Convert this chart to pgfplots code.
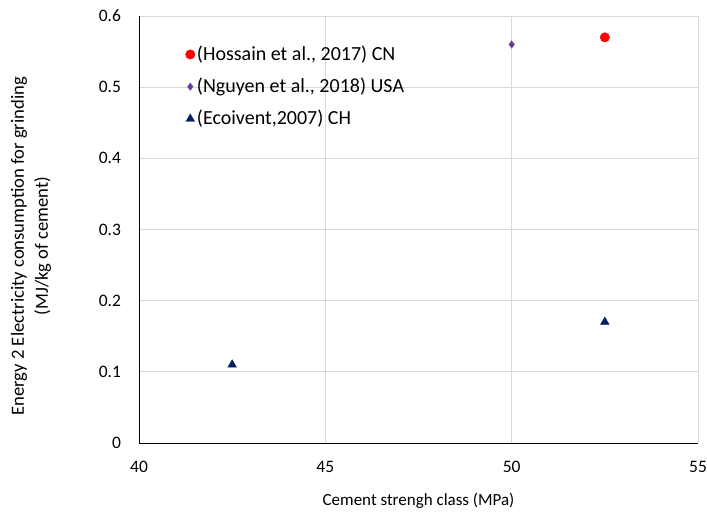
\documentclass[border=0pt]{standalone}
\usepackage{pgfplots}
\pgfplotsset{compat=1.18}
\usepackage{fontspec}
\setmainfont{Carlito}
\definecolor{gridgray}{HTML}{D9D9D9}
\definecolor{navy}{HTML}{002060}
\definecolor{purp}{HTML}{7030A0}
\begin{document}
\fontsize{17.5}{21}\selectfont
\begin{tikzpicture}
\useasboundingbox (-139pt,-70pt) rectangle (568pt,443pt);
\begin{axis}[
    at={(0,0)}, anchor=south west,
    scale only axis,
    width=559pt, height=427pt,
    xmin=40, xmax=55, ymin=0, ymax=0.6,
    xtick={40,45,50,55},
    ytick={0,0.1,0.2,0.3,0.4,0.5,0.6},
    /pgf/number format/assume math mode=true,
    yticklabel style={/pgf/number format/fixed, /pgf/number format/precision=1, xshift=-12pt},
    tick label style={font=\fontsize{17.5}{21}\selectfont},
    major tick length=0pt,
    xticklabel style={yshift=-12pt},
    axis lines=left,
    axis line style={-, black, line width=0.9pt},
    grid=major,
    major grid style={gridgray, line width=0.8pt},
    xlabel={Cement strengh class (MPa)},
    ylabel={Energy 2 Electricity consumption for grinding\\(MJ/kg of cement)},
    ylabel style={align=center, font=\fontsize{18.6}{24}\selectfont,
        at={(axis description cs:-0.193,0.461)}, anchor=center},
    xlabel style={font=\fontsize{17}{21}\selectfont, yshift=-9pt},
    legend style={draw=none, fill=none, at={(0.083,0.94)}, anchor=north west,
        font=\fontsize{20}{24}\selectfont, row sep=11pt,
        legend cell align=left, inner xsep=0pt},
    legend image code/.code={\draw[#1] plot coordinates {(0.05cm,0cm)};},
]
\addplot[only marks, mark=*, mark size=4.7pt, color=red] coordinates {(52.5,0.57)};
\addlegendentry{(Hossain et al., 2017) CN}
\addplot[only marks, mark=diamond*, mark size=4pt, draw=gray!80, fill=purp, line width=0.4pt] coordinates {(50,0.56)};
\addlegendentry{(Nguyen et al., 2018) USA}
\addplot[only marks, mark=triangle*, mark size=5pt, color=navy] coordinates {(42.5,0.11) (52.5,0.17)};
\addlegendentry{(Ecoivent,2007) CH}
\end{axis}
\end{tikzpicture}
\end{document}
